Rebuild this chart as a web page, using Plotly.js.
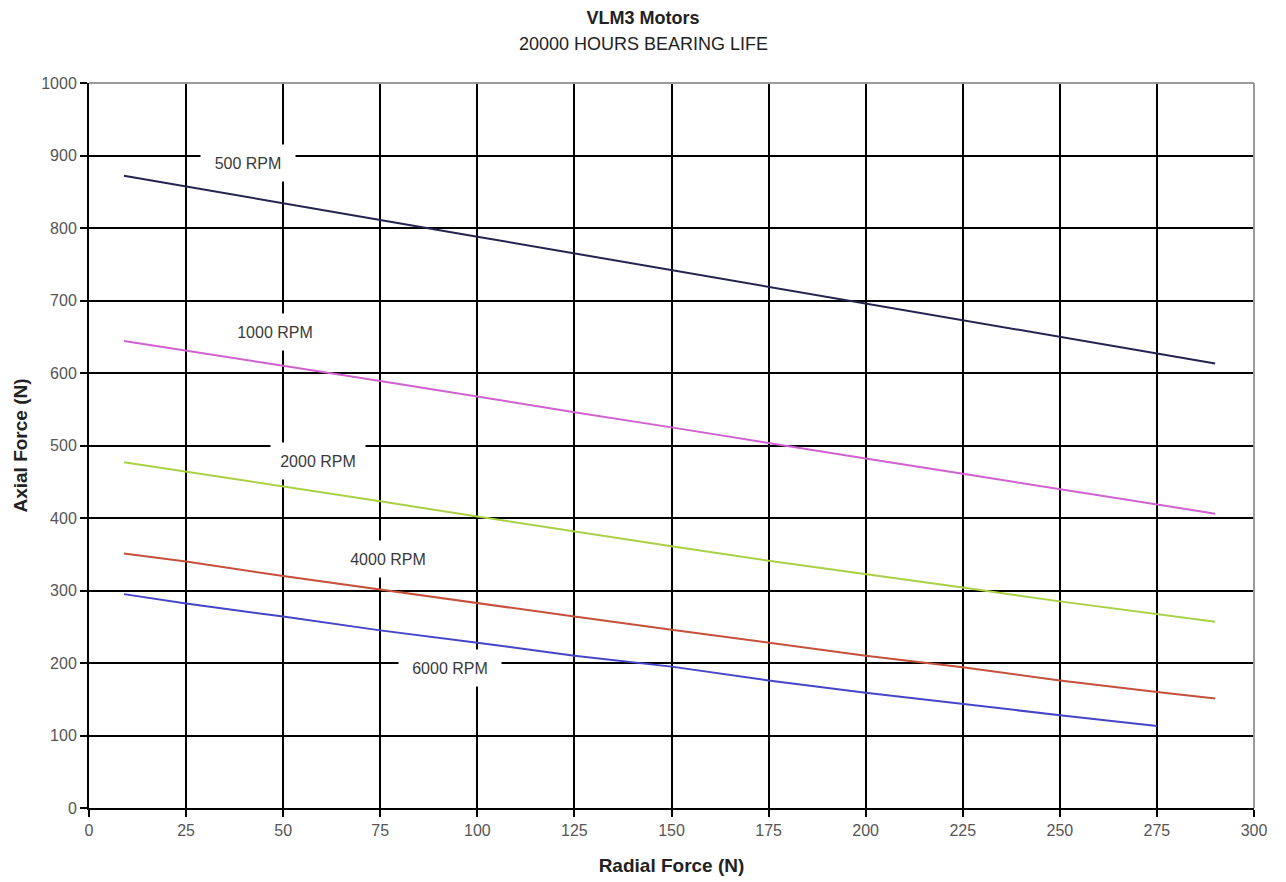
<!DOCTYPE html>
<html>
<head>
<meta charset="utf-8">
<script src="https://cdn.plot.ly/plotly-3.0.1.min.js"></script>
<style>html,body{margin:0;padding:0;background:#fff;}#chart{width:1286px;height:882px;}</style>
</head>
<body>
<div id="chart"></div>
<script>
// Radial force (N) sample positions
const radialX = [9, 25, 50, 75, 100, 125, 150, 175, 200, 225, 250, 275, 290];
const radialX6000 = [9, 25, 50, 75, 100, 125, 150, 175, 200, 225, 250, 275];

// Axial force (N) per speed
const rpm500  = [872, 857, 834, 811, 788, 765, 742, 719, 696, 673, 650, 626, 613];
const rpm1000 = [644, 631, 610, 589, 567, 546, 525, 503, 482, 461, 440, 419, 406];
const rpm2000 = [477, 464, 444, 423, 402, 381, 361, 341, 323, 304, 285, 267, 257];
const rpm4000 = [351, 340, 320, 301, 282, 264, 246, 228, 210, 194, 176, 160, 151];
const rpm6000 = [295, 282, 264, 245, 228, 210, 195, 176, 159, 143, 128, 113];

const seriesNames = ["500 RPM", "1000 RPM", "2000 RPM", "4000 RPM", "6000 RPM"];
const seriesColors = ["#23234f", "#cf62cf", "#a9d046", "#c5503c", "#4545c8"];

// Label anchor positions (data units) for the in-plot series labels
const labelX = [41, 48, 59, 77, 93];
const labelY = [890, 656, 478, 343, 193];

const xTicks = [0, 25, 50, 75, 100, 125, 150, 175, 200, 225, 250, 275, 300];
const yTicks = [0, 100, 200, 300, 400, 500, 600, 700, 800, 900, 1000];

const titleText = "VLM3 Motors";
const subtitleText = "20000 HOURS BEARING LIFE";

const ys = [rpm500, rpm1000, rpm2000, rpm4000, rpm6000];
const xs = [radialX, radialX, radialX, radialX, radialX6000];

const FONT = "Liberation Sans, Arial, sans-serif";

const traces = ys.map((y, i) => ({
  x: xs[i], y: y, type: "scatter", mode: "lines", name: seriesNames[i],
  line: {color: seriesColors[i], width: 2}, hoverinfo: "skip"
}));

const annotations = seriesNames.map((n, i) => ({
  x: labelX[i], y: labelY[i], xref: "x", yref: "y", text: n, showarrow: false,
  font: {family: FONT, size: 16, color: "#3a3a3a"}, bgcolor: "#ffffff",
  width: i === 4 ? 100 : 92, height: 34
}));
annotations.push({
  x: (643 - 89) / (1286 - 89 - 32), y: 1.054, xref: "paper", yref: "paper",
  xanchor: "center", yanchor: "middle",
  text: subtitleText, showarrow: false, font: {family: FONT, size: 18, color: "#222"}
});

const layout = {
  width: 1286, height: 882,
  margin: {l: 89, r: 32, t: 83, b: 74},
  paper_bgcolor: "#ffffff", plot_bgcolor: "#ffffff",
  showlegend: false,
  font: {family: FONT, color: "#333"},
  title: {
    text: "<b>" + titleText + "</b>",
    font: {family: FONT, size: 18, color: "#222"},
    x: 0.5, xref: "container", xanchor: "center",
    y: 1 - 18 / 882, yref: "container", yanchor: "middle"
  },
  xaxis: {
    range: [0, 300], tickvals: xTicks, ticktext: xTicks.map(String),
    showgrid: true, gridcolor: "#000", gridwidth: 2,
    showline: true, linecolor: "#000", linewidth: 2,
    ticks: "outside", ticklen: 7, tickwidth: 2, tickcolor: "#000",
    tickfont: {family: FONT, size: 16, color: "#555"},
    zeroline: false, fixedrange: true,
    title: {text: "<b>Radial Force (N)</b>", font: {family: FONT, size: 19, color: "#222"}, standoff: 20}
  },
  yaxis: {
    range: [0, 1000], tickvals: yTicks, ticktext: yTicks.map(String),
    showgrid: true, gridcolor: "#000", gridwidth: 2,
    showline: true, linecolor: "#000", linewidth: 2,
    ticks: "outside", ticklen: 7, tickwidth: 2, tickcolor: "#000",
    tickfont: {family: FONT, size: 16, color: "#555"},
    zeroline: false, fixedrange: true,
    title: {text: "<b>Axial Force (N)</b>", font: {family: FONT, size: 19, color: "#222"}, standoff: 9}
  },
  annotations: annotations,
  shapes: [
    {type: "line", xref: "paper", yref: "paper", x0: 0, x1: 1, y0: 1, y1: 1, line: {color: "#9a9a9a", width: 2}},
    {type: "line", xref: "paper", yref: "paper", x0: 1, x1: 1, y0: 0, y1: 1, line: {color: "#9a9a9a", width: 2}}
  ]
};

Plotly.newPlot("chart", traces, layout, {displayModeBar: false, staticPlot: true});
</script>
</body>
</html>
